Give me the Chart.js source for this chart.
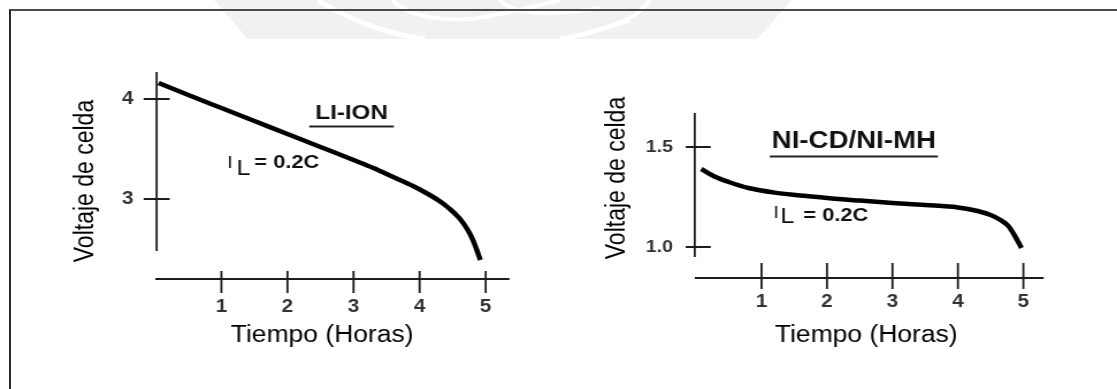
<!DOCTYPE html>
<html>
<head>
<meta charset="utf-8">
<script src="https://cdn.jsdelivr.net/npm/chart.js@4.4.1/dist/chart.umd.min.js"></script>
<style>
  html, body { margin: 0; padding: 0; background: #fff; width: 1117px; height: 389px; overflow: hidden; position: relative; }
  #mark { position: absolute; left: 0; top: 0; }
  #frame { position: absolute; left: 9px; top: 9px; width: 1200px; height: 500px; border-top: 2px solid #4a4a4a; border-left: 2px solid #2a2a2a; }
  canvas { position: absolute; top: 0; }
  #liIon { left: 0; }
  #niMh { left: 558px; }
</style>
</head>
<body>
<svg id="mark" width="1117" height="50">
  <path d="M214,0 L248,39 L757,39 L792,0 Z" fill="#f1f1f1"/>
  <path d="M318,0 C345,18 385,34 425,39" stroke="#fff" stroke-width="5" fill="none"/>
  <path d="M392,0 C410,18 450,24 490,16 C520,10 545,4 560,0" stroke="#fff" stroke-width="4" fill="none"/>
  <path d="M500,0 C510,12 540,18 600,8" stroke="#fff" stroke-width="4" fill="none"/>
  <path d="M630,20 C600,30 580,36 560,39" stroke="#fff" stroke-width="5" fill="none"/>
  <path d="M650,0 C640,14 625,22 610,26" stroke="#fff" stroke-width="4" fill="none"/>
</svg>
<div id="frame"></div>
<canvas id="liIon" width="485" height="389" style="width:558px;height:389px"></canvas>
<canvas id="niMh" width="486" height="389" style="width:559px;height:389px"></canvas>
<script>
// the scanned figure is wider than it is tall, so the canvases are stretched by css
const STRETCH = 1.15;
const FONT = "'Liberation Sans', Arial, Helvetica, sans-serif";

const hourTicks = [1, 2, 3, 4, 5];

const liIonHours = [0.05, 0.5, 1, 1.5, 2, 2.5, 3, 3.3, 3.6, 3.9, 4.1, 4.3, 4.45, 4.6, 4.72, 4.8, 4.86, 4.92];
const liIonVolts = [4.16, 4.04, 3.91, 3.78, 3.65, 3.52, 3.39, 3.31, 3.22, 3.13, 3.06, 2.98, 2.905, 2.81, 2.70, 2.60, 2.50, 2.39];
const liIonYTicks = [3, 4];
const liIonYLabels = ["3", "4"];

const niHours = [0.08, 0.3, 0.5, 0.8, 1.2, 1.6, 2, 2.5, 3, 3.5, 4, 4.3, 4.5, 4.65, 4.77, 4.87, 4.97];
const niVolts = [1.39, 1.35, 1.325, 1.295, 1.272, 1.258, 1.245, 1.232, 1.22, 1.21, 1.198, 1.18, 1.16, 1.135, 1.105, 1.055, 0.995];
const niYTicks = [1.0, 1.5];
const niYLabels = ["1.0", "1.5"];

// axis lines drawn like the hand-made figure: crossing ticks, gap at the corner
const handAxes = {
  id: "handAxes",
  afterDatasetsDraw(chart, args, o) {
    const { ctx } = chart;
    const x = chart.scales.x, y = chart.scales.y;
    const ax = x.getPixelForValue(o.yAxisAt);
    const ay = y.getPixelForValue(o.xAxisAt);
    ctx.save();
    ctx.strokeStyle = "#1c1c1c";

    ctx.lineWidth = 1.8;
    ctx.beginPath();
    ctx.moveTo(ax, y.getPixelForValue(o.yAxisFrom));
    ctx.lineTo(ax, y.getPixelForValue(o.yAxisTo));
    x.ticks.forEach(t => {
      const px = x.getPixelForValue(t.value);
      ctx.moveTo(px, ay - o.xTickUp);
      ctx.lineTo(px, ay + o.xTickDown);
    });
    ctx.stroke();

    ctx.lineWidth = 2;
    ctx.beginPath();
    ctx.moveTo(x.getPixelForValue(o.xAxisFrom), ay);
    ctx.lineTo(x.getPixelForValue(o.xAxisTo), ay);
    y.ticks.forEach(t => {
      const py = y.getPixelForValue(t.value);
      ctx.moveTo(ax - o.yTickIn / STRETCH, py);
      ctx.lineTo(ax + o.yTickOut / STRETCH, py);
    });
    ctx.stroke();
    ctx.restore();
  }
};

const notes = {
  id: "notes",
  afterDatasetsDraw(chart, args, o) {
    const { ctx } = chart;
    const x = chart.scales.x, y = chart.scales.y;
    ctx.save();
    ctx.fillStyle = "#111";
    ctx.strokeStyle = "#222";

    const h = o.heading;
    const hx = x.getPixelForValue(h.at[0]);
    const hy = y.getPixelForValue(h.at[1]);
    ctx.font = `bold ${h.size}px ${FONT}`;
    ctx.textAlign = "center";
    ctx.textBaseline = "middle";
    ctx.fillText(h.text, hx, hy);
    const half = ctx.measureText(h.text).width / 2 + h.overhang / STRETCH;
    ctx.lineWidth = 2;
    ctx.beginPath();
    ctx.moveTo(hx - half, hy + h.under);
    ctx.lineTo(hx + half, hy + h.under);
    ctx.stroke();

    const l = o.load;
    const lx = x.getPixelForValue(l.at[0]);
    const ly = y.getPixelForValue(l.at[1]);
    ctx.textAlign = "left";
    ctx.textBaseline = "alphabetic";
    l.parts.forEach(p => {
      ctx.font = `${p.weight} ${p.size}px ${FONT}`;
      ctx.fillText(p.text, lx + p.dx / STRETCH, ly + p.dy);
    });
    ctx.restore();
  }
};

function makeChart(id, cfg) {
  const ctx = document.getElementById(id).getContext("2d");
  return new Chart(ctx, {
    type: "line",
    data: {
      datasets: [{
        data: cfg.hours.map((h, i) => ({ x: h, y: cfg.volts[i] })),
        borderColor: "#000",
        borderWidth: 4.5,
        pointRadius: 0,
        cubicInterpolationMode: "monotone",
        clip: false,
      }]
    },
    options: {
      responsive: false,
      animation: false,
      events: [],
      layout: { padding: cfg.padding },
      plugins: {
        legend: { display: false },
        tooltip: { enabled: false },
        handAxes: cfg.axes,
        notes: cfg.notes,
      },
      scales: {
        x: {
          type: "linear",
          min: 0,
          max: cfg.xMax,
          border: { display: false },
          grid: { display: false, drawTicks: false },
          afterBuildTicks: s => { s.ticks = hourTicks.map(v => ({ value: v })); },
          afterFit: s => { s.height = cfg.xHeight; },
          ticks: {
            padding: cfg.xTickPad,
            color: "#333",
            font: { family: FONT, size: 18, weight: "bold" },
            callback: v => String(v),
          },
          title: {
            display: true,
            text: "Tiempo (Horas)",
            color: "#000",
            font: { family: FONT, size: 23 },
            padding: { top: 0, bottom: 40 },
          },
        },
        y: {
          type: "linear",
          min: cfg.yMin,
          max: cfg.yMax,
          border: { display: false },
          grid: { display: false, drawTicks: false },
          afterBuildTicks: s => { s.ticks = cfg.yTicks.map(v => ({ value: v })); },
          afterFit: s => { s.width = cfg.yWidth; },
          ticks: {
            padding: cfg.yTickPad,
            color: "#333",
            font: { family: FONT, size: cfg.yTickSize, weight: "bold" },
            callback: (v, i) => cfg.yLabels[i],
          },
          title: {
            display: true,
            text: "Voltaje de celda",
            color: "#000",
            font: { family: FONT, size: 23 },
            padding: { top: cfg.yTitlePad, bottom: 0 },
          },
        },
      },
    },
    plugins: [handAxes, notes],
  });
}

makeChart("liIon", {
  hours: liIonHours,
  volts: liIonVolts,
  yTicks: liIonYTicks,
  yLabels: liIonYLabels,
  xMax: 5.05,
  yMin: 2.2,
  yMax: 4.16,
  padding: { left: 0, right: 60, top: 83, bottom: 0 },
  xHeight: 110,
  yWidth: 135,
  xTickPad: 17,
  yTickPad: 19,
  yTickSize: 18,
  yTitlePad: 61,
  axes: {
    yAxisAt: 0.02, yAxisFrom: 4.27, yAxisTo: 2.48,
    xAxisAt: 2.2, xAxisFrom: 0, xAxisTo: 5.36,
    yTickIn: 13, yTickOut: 13, xTickUp: 8, xTickDown: 14,
  },
  notes: {
    heading: { text: "LI-ION", at: [2.97, 3.855], size: 21, under: 13, overhang: 6 },
    load: {
      at: [1.09, 3.36],
      parts: [
        { text: "I", dx: 0, dy: 5, size: 17, weight: "normal" },
        { text: "L", dx: 9, dy: 12, size: 22, weight: "normal" },
        { text: "= 0.2C", dx: 27, dy: 5, size: 19, weight: "bold" },
      ],
    },
  },
});

makeChart("niMh", {
  hours: niHours,
  volts: niVolts,
  yTicks: niYTicks,
  yLabels: niYLabels,
  xMax: 5.2,
  yMin: 0.845,
  yMax: 1.845,
  padding: { left: 0, right: 70, top: 78, bottom: 0 },
  xHeight: 111,
  yWidth: 120,
  xTickPad: 13,
  yTickPad: 20,
  yTickSize: 17,
  yTitlePad: 38,
  axes: {
    yAxisAt: -0.02, yAxisFrom: 1.67, yAxisTo: 0.95,
    xAxisAt: 0.845, xAxisFrom: -0.02, xAxisTo: 5.31,
    yTickIn: 9, yTickOut: 16, xTickUp: 15, xTickDown: 11,
  },
  notes: {
    heading: { text: "NI-CD/NI-MH", at: [2.41, 1.527], size: 24, under: 15, overhang: 2 },
    load: {
      at: [1.18, 1.175],
      parts: [
        { text: "I", dx: 0, dy: 6, size: 17, weight: "normal" },
        { text: "L", dx: 7, dy: 11, size: 22, weight: "normal" },
        { text: "= 0.2C", dx: 30, dy: 9, size: 19, weight: "bold" },
      ],
    },
  },
});
</script>
</body>
</html>
